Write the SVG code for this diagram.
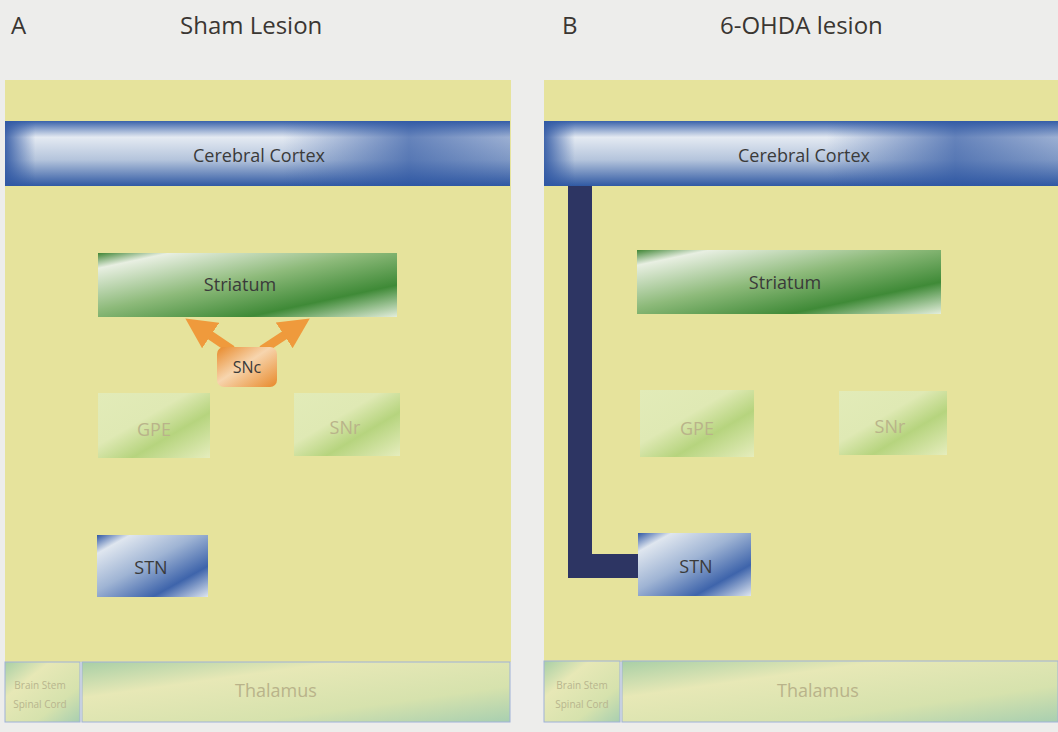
<svg xmlns="http://www.w3.org/2000/svg" width="1058" height="732" viewBox="0 0 1058 732">
<style>
.title{font-family:"Open Sans","Liberation Sans",sans-serif;font-size:24px;fill:#3a3632}
.lbl{font-family:"Open Sans","Liberation Sans",sans-serif;font-size:18px;fill:#3a3a3a;text-anchor:middle}
.faint{font-family:"Open Sans","Liberation Sans",sans-serif;font-size:18px;fill:#b9b38a;text-anchor:middle}
.tiny{font-family:"Open Sans","Liberation Sans",sans-serif;font-size:10px;fill:#b8b58e;text-anchor:middle}
.panel{fill:#e6e39c}
</style>
<defs>
<linearGradient id="gBlue" x1="0" y1="0" x2="1" y2="1">
<stop offset="0" stop-color="#2f57a3"/>
<stop offset="0.15" stop-color="#dfe6ef"/>
<stop offset="0.45" stop-color="#9fb4d4"/>
<stop offset="0.75" stop-color="#3e64ab"/>
<stop offset="1" stop-color="#dfe6f0"/>
</linearGradient>
<linearGradient id="gCortex" x1="0" y1="0" x2="0" y2="1">
<stop offset="0" stop-color="#3a62aa"/>
<stop offset="0.25" stop-color="#e4eaf2"/>
<stop offset="0.6" stop-color="#b4c4dc"/>
<stop offset="1" stop-color="#3059a3"/>
</linearGradient>
<linearGradient id="gCortexH" x1="0" y1="0" x2="1" y2="0">
<stop offset="0" stop-color="#2f57a3" stop-opacity="0.9"/>
<stop offset="0.06" stop-color="#2f57a3" stop-opacity="0"/>
<stop offset="0.55" stop-color="#2f57a3" stop-opacity="0"/>
<stop offset="0.8" stop-color="#2f57a3" stop-opacity="0.7"/>
<stop offset="1" stop-color="#2f57a3" stop-opacity="0.4"/>
</linearGradient>
<linearGradient id="gGreen" x1="0" y1="0" x2="1" y2="1">
<stop offset="0" stop-color="#3f8534"/>
<stop offset="0.12" stop-color="#e8efe2"/>
<stop offset="0.45" stop-color="#8dba7a"/>
<stop offset="0.75" stop-color="#3f8a37"/>
<stop offset="1" stop-color="#e4eedc"/>
</linearGradient>
<linearGradient id="gFaint" x1="0" y1="0" x2="1" y2="1">
<stop offset="0" stop-color="#e2ebb8"/>
<stop offset="0.4" stop-color="#dfe9b4"/>
<stop offset="0.65" stop-color="#b6d47e"/>
<stop offset="1" stop-color="#e6edbd"/>
</linearGradient>
<linearGradient id="gOrange" x1="0" y1="0" x2="1" y2="1">
<stop offset="0" stop-color="#e8892a"/>
<stop offset="0.45" stop-color="#f7d5ae"/>
<stop offset="1" stop-color="#e8892a"/>
</linearGradient>
<linearGradient id="gBottom" x1="0" y1="0" x2="1" y2="1">
<stop offset="0" stop-color="#a8cfa6"/>
<stop offset="0.3" stop-color="#e7e8b6"/>
<stop offset="0.7" stop-color="#d6e2ad"/>
<stop offset="1" stop-color="#a8cfb0"/>
</linearGradient>
<marker id="ah" viewBox="0 0 10 10" refX="5" refY="5" markerWidth="3.4" markerHeight="3.4" orient="auto">
<path d="M0,0 L10,5 L0,10 z" fill="#ef9a3c"/>
</marker>
</defs>
<rect width="1058" height="732" fill="#ededeb"/>

<g id="panelA">
<rect class="panel" x="5" y="80" width="506" height="582"/>
<text class="title" x="11" y="34">A</text>
<text class="title" x="180" y="34">Sham Lesion</text>
</g>
<g id="panelB">
<rect class="panel" x="544" y="80" width="514" height="582"/>
<text class="title" x="562" y="34">B</text>
<text class="title" x="720" y="34">6-OHDA lesion</text>
</g>

<g id="connectors">
<path d="M232,350 L198,327" stroke="#ef9a3c" stroke-width="9" fill="none" marker-end="url(#ah)"/>
<path d="M262,350 L297,327" stroke="#ef9a3c" stroke-width="9" fill="none" marker-end="url(#ah)"/>
<path d="M580,186 V566 H640" stroke="#2d3563" stroke-width="24" fill="none" stroke-linejoin="miter"/>
</g>

<g id="cortexA">
<rect x="5" y="121" width="505" height="65" fill="url(#gCortex)"/>
<rect x="5" y="121" width="505" height="65" fill="url(#gCortexH)"/>
<text class="lbl" x="259" y="162">Cerebral Cortex</text>
</g>
<g id="striatumA">
<rect x="98" y="253" width="299" height="64" fill="url(#gGreen)"/>
<text class="lbl" x="240" y="291">Striatum</text>
</g>
<g id="sncA">
<rect x="217" y="347" width="60" height="40" rx="7" fill="url(#gOrange)"/>
<text class="lbl" x="247" y="373" style="font-size:16px">SNc</text>
</g>
<g id="gpeA">
<rect x="98" y="393" width="112" height="65" fill="url(#gFaint)"/>
<text class="faint" x="154" y="436">GPE</text>
</g>
<g id="snrA">
<rect x="294" y="393" width="106" height="63" fill="url(#gFaint)"/>
<text class="faint" x="345" y="434">SNr</text>
</g>
<g id="stnA">
<rect x="97" y="535" width="111" height="62" fill="url(#gBlue)"/>
<text class="lbl" x="151" y="574">STN</text>
</g>
<g id="brainstemA">
<rect x="5" y="662" width="75" height="60" fill="url(#gBottom)" stroke="#9fb2d8" stroke-width="1"/>
<text class="tiny" x="40" y="689">Brain Stem</text>
<text class="tiny" x="40" y="708">Spinal Cord</text>
</g>
<g id="thalamusA">
<rect x="82" y="662" width="428" height="60" fill="url(#gBottom)" stroke="#9fb2d8" stroke-width="1"/>
<text class="faint" x="276" y="697">Thalamus</text>
</g>

<g id="cortexB">
<rect x="544" y="121" width="514" height="65" fill="url(#gCortex)"/>
<rect x="544" y="121" width="514" height="65" fill="url(#gCortexH)"/>
<text class="lbl" x="804" y="162">Cerebral Cortex</text>
</g>
<g id="striatumB">
<rect x="637" y="250" width="304" height="64" fill="url(#gGreen)"/>
<text class="lbl" x="785" y="289">Striatum</text>
</g>
<g id="gpeB">
<rect x="640" y="390" width="114" height="67" fill="url(#gFaint)"/>
<text class="faint" x="697" y="435">GPE</text>
</g>
<g id="snrB">
<rect x="839" y="391" width="108" height="64" fill="url(#gFaint)"/>
<text class="faint" x="890" y="433">SNr</text>
</g>
<g id="stnB">
<rect x="638" y="533" width="113" height="63" fill="url(#gBlue)"/>
<text class="lbl" x="696" y="573">STN</text>
</g>
<g id="brainstemB">
<rect x="544" y="661" width="76" height="61" fill="url(#gBottom)" stroke="#9fb2d8" stroke-width="1"/>
<text class="tiny" x="582" y="689">Brain Stem</text>
<text class="tiny" x="582" y="708">Spinal Cord</text>
</g>
<g id="thalamusB">
<rect x="622" y="661" width="436" height="61" fill="url(#gBottom)" stroke="#9fb2d8" stroke-width="1"/>
<text class="faint" x="818" y="697">Thalamus</text>
</g>
</svg>
